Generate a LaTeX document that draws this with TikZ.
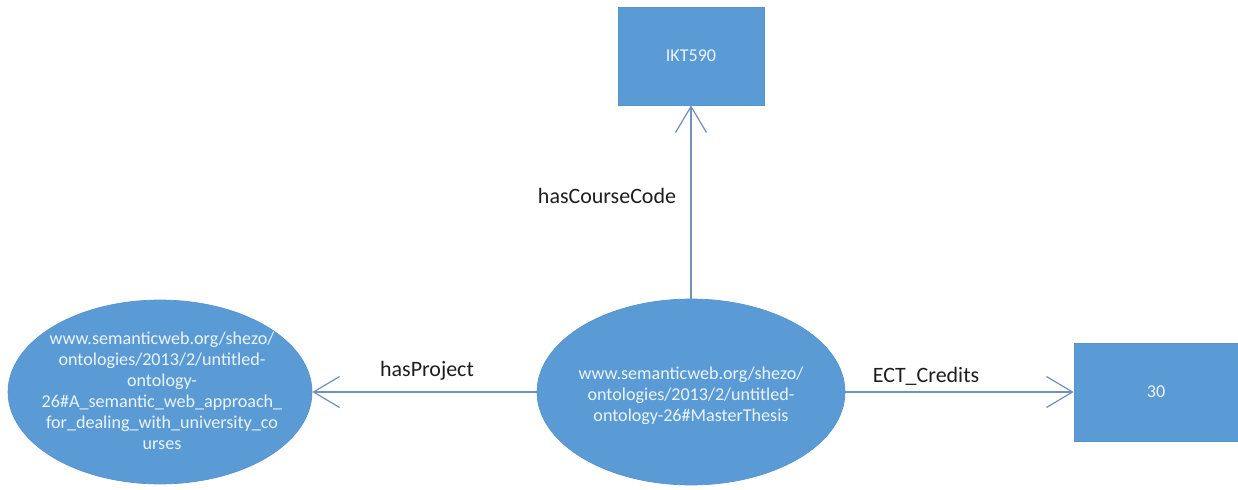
\documentclass[tikz,border=0pt]{standalone}
\usepackage{fontspec}
\setmainfont{Carlito}
\usetikzlibrary{shapes.geometric,arrows.meta}
\definecolor{fillblue}{RGB}{91,155,213}
\definecolor{edgeblue}{RGB}{88,148,206}
\definecolor{linecol}{RGB}{112,146,186}
\definecolor{txtwhite}{RGB}{236,244,252}
\definecolor{lbl}{RGB}{30,30,30}
\tikzset{
  ell/.style={ellipse, fill=fillblue, draw=edgeblue, line width=0.4pt, inner sep=0pt},
  etext/.style={text=txtwhite, align=center, inner sep=0pt,
    font=\fontsize{10.3pt}{11.9pt}\selectfont},
  box/.style={rectangle, fill=fillblue, draw=edgeblue, line width=0.4pt, inner sep=0pt,
    text=txtwhite, font=\fontsize{10.3pt}{11.9pt}\selectfont},
  rel/.style={draw=linecol, line width=0.7pt, -{Straight Barb[length=0.52cm,width=0.62cm,line width=0.7pt]}},
  lab/.style={text=lbl, inner sep=0pt, font=\fontsize{12.5pt}{14pt}\selectfont}
}
\begin{document}
\begin{tikzpicture}[x=0.02cm,y=-0.02cm]
\useasboundingbox (0,0) rectangle (1238,490);
\node[box, minimum width=2.92cm, minimum height=1.96cm] (ikt) at (691,56) {IKT590};
\node[box, minimum width=3.28cm, minimum height=1.96cm] (thirty) at (1156,392) {30};
\node[ell, minimum width=6.16cm, minimum height=3.72cm] (c) at (691,392) {};
\node[etext] (ct) at (691,396)
  {www.semanticweb.org/shezo/\\ontologies/2013/2/untitled-\\ontology-26\#MasterThesis};
\node[ell, minimum width=6.08cm, minimum height=3.68cm] (l) at (160,392) {};
\node[etext] (lt) at (162,391)
  {www.semanticweb.org/shezo/\\ontologies/2013/2/untitled-\\ontology-\\26\#A\_semantic\_web\_approach\_\\for\_dealing\_with\_university\_co\\urses};
\draw[rel] (c.north) -- (ikt.south);
\draw[rel] (c.west) -- (l.east);
\draw[rel] (c.east) -- (thirty.west);
\node[lab] (lcc) at (607,196) {hasCourseCode};
\node[lab] (lhp) at (427,371) {hasProject};
\node[lab] (lect) at (926,376) {ECT\_Credits};
\end{tikzpicture}
\end{document}
